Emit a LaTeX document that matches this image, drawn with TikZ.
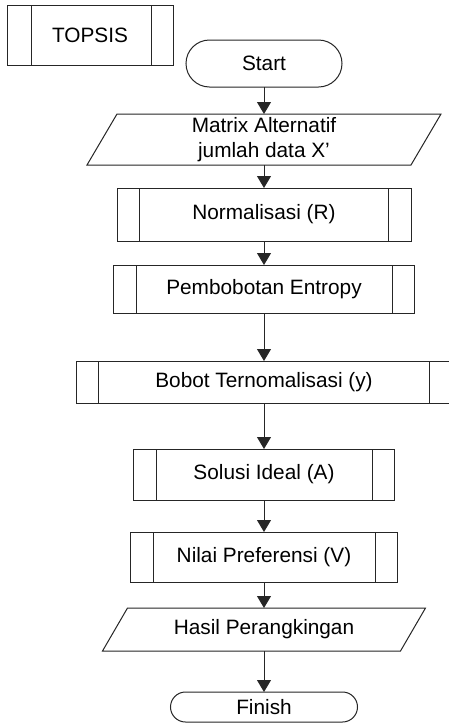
\documentclass[tikz,border=0pt]{standalone}
\usepackage{fontspec}
\setmainfont{Liberation Sans}
\usetikzlibrary{arrows.meta}
\definecolor{lc}{HTML}{262626}
\begin{document}
\begin{tikzpicture}[x=0.5pt,y=-0.5pt,
  every node/.style={font=\fontsize{10.4}{12.6}\selectfont, inner sep=0pt, outer sep=0pt, text=black},
  procbox/.style={draw=lc, line width=0.5pt, fill=white, rectangle},
  termbox/.style={draw=lc, line width=0.5pt, fill=white, rectangle, rounded corners=#1},
  iobox/.style={rectangle, align=center},
  arr/.style={draw=lc, line width=0.5pt, -{Triangle[length=6pt,width=7pt]}},
  pline/.style={draw=lc, line width=0.5pt}
]
\clip (0,0) rectangle (449,724);
\fill[white] (0,0) rectangle (449,724);

% TOPSIS
\node[procbox, minimum width=83pt, minimum height=30pt] (topsis) at (90,35) {TOPSIS};
\draw[pline] ([xshift=12pt]topsis.north west) -- ([xshift=12pt]topsis.south west);
\draw[pline] ([xshift=-11pt]topsis.north east) -- ([xshift=-11pt]topsis.south east);

% Start
\node[termbox=11.75pt, minimum width=78pt, minimum height=23.5pt] (start) at (264,63.5) {Start};

% Matrix (parallelogram)
\node[iobox, minimum width=162pt, minimum height=25.5pt] (matrix) at (264,139.5) {Matrix Alternatif\\jumlah data X’};
\draw[pline] ([xshift=7.5pt]matrix.north west) -- ([xshift=7.5pt]matrix.north east)
  -- ([xshift=-7.5pt]matrix.south east) -- ([xshift=-7.5pt]matrix.south west) -- cycle;

% Normalisasi
\node[procbox, minimum width=147pt, minimum height=26.5pt] (norm) at (264,214.5) {Normalisasi (R)};
% Pembobotan
\node[procbox, minimum width=150.5pt, minimum height=24pt] (bobot) at (264,289) {Pembobotan Entropy};
% Bobot Ternomalisasi
\node[procbox, minimum width=188pt, minimum height=21pt] (terno) at (264,382) {Bobot Ternomalisasi (y)};
% Solusi Ideal
\node[procbox, minimum width=130.5pt, minimum height=25.5pt] (solusi) at (264,474.5) {Solusi Ideal (A)};
% Nilai Preferensi
\node[procbox, minimum width=133.5pt, minimum height=25pt] (nilai) at (264,557) {Nilai Preferensi (V)};

\foreach \n in {norm,bobot,terno,solusi,nilai}{
  \draw[pline] ([xshift=11.25pt]\n.north west) -- ([xshift=11.25pt]\n.south west);
  \draw[pline] ([xshift=-11.25pt]\n.north east) -- ([xshift=-11.25pt]\n.south east);
}

% Hasil (parallelogram)
\node[iobox, minimum width=149pt, minimum height=21.5pt] (hasil) at (264,629.5) {Hasil Perangkingan};
\draw[pline] ([xshift=6.25pt]hasil.north west) -- ([xshift=6.25pt]hasil.north east)
  -- ([xshift=-6.25pt]hasil.south east) -- ([xshift=-6.25pt]hasil.south west) -- cycle;

% Finish
\node[termbox=7.5pt, minimum width=93.5pt, minimum height=15pt] (finish) at (264,707) {Finish};

% connectors
\draw[arr] (start.south) -- (matrix.north);
\draw[arr] (matrix.south) -- (norm.north);
\draw[arr] (norm.south) -- (bobot.north);
\draw[arr] (bobot.south) -- (terno.north);
\draw[arr] (terno.south) -- (solusi.north);
\draw[arr] (solusi.south) -- (nilai.north);
\draw[arr] (nilai.south) -- (hasil.north);
\draw[arr] (hasil.south) -- (finish.north);
\end{tikzpicture}
\end{document}
